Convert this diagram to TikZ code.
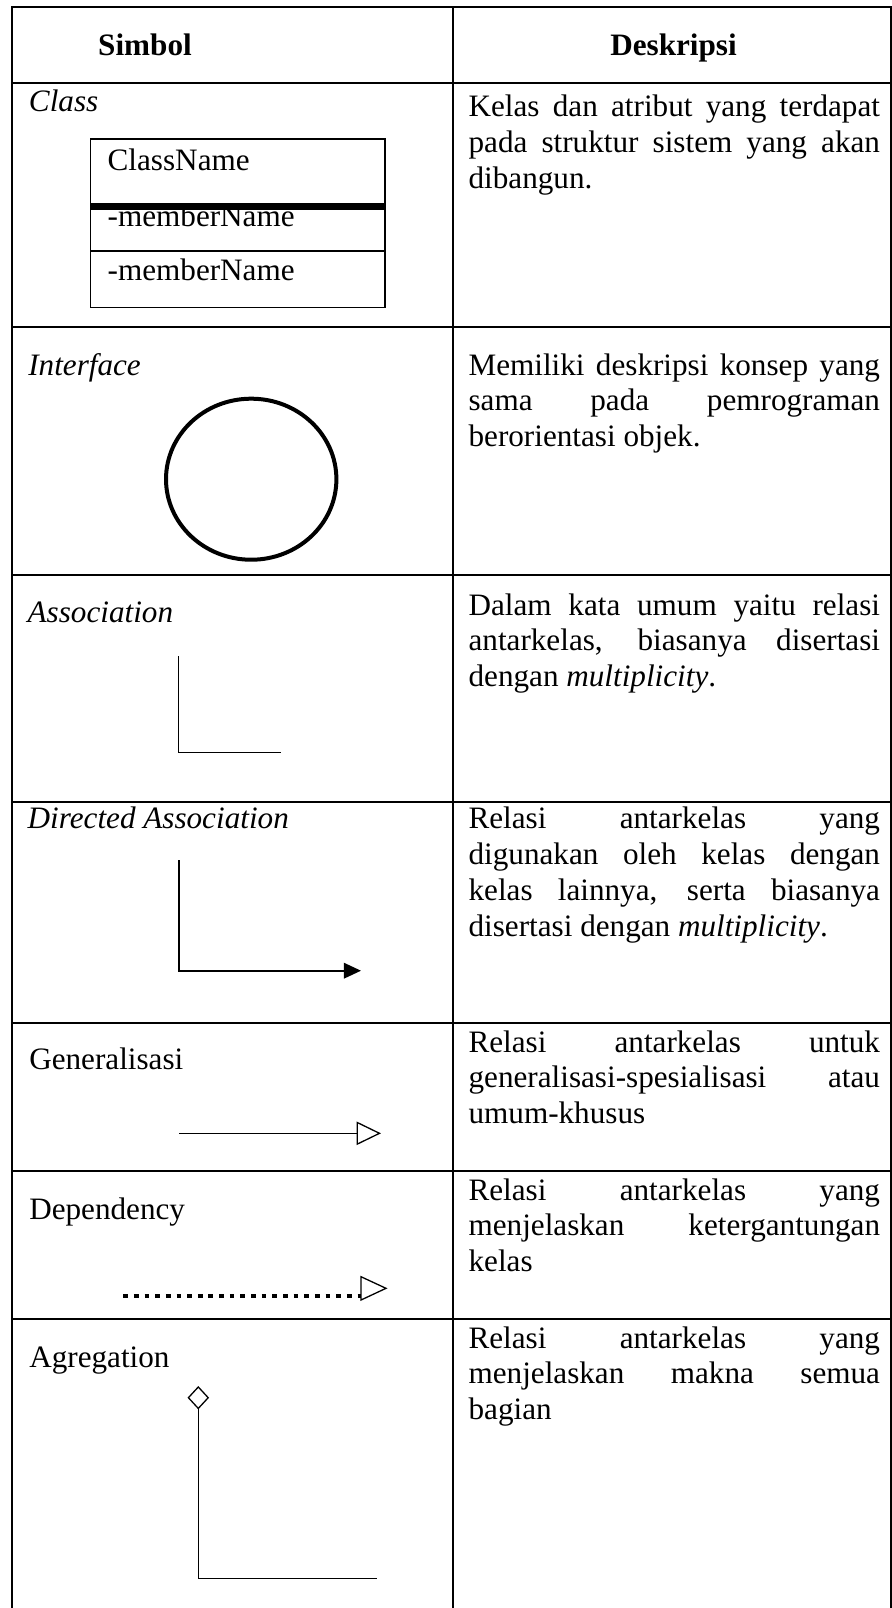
\documentclass[tikz,border=0pt]{standalone}
\usepackage{fontspec}
\setmainfont{Liberation Serif}
\usetikzlibrary{arrows.meta}
\newcommand{\cellfont}{\fontsize{12}{13.8}\selectfont}
\tolerance=10000
\hbadness=10000
\hyphenpenalty=10000
\exhyphenpenalty=10000

\begin{document}
\begin{tikzpicture}[x=0.385pt, y=-0.385pt, line width=0.77pt, font=\cellfont,
      every node/.append style={inner sep=0pt}]
    \tikzstyle{head} = [anchor=base, font=\cellfont\bfseries]
    \tikzstyle{word} = [anchor=base west]
    \tikzstyle{slant} = [anchor=base west, font=\cellfont\itshape]
    \tikzstyle{desc} = [anchor=base west, text width=158.4pt, align=justify]
    \tikzstyle{thin} = [line width=0.5pt]
    \useasboundingbox (0,0) rectangle (892,1608);
    \draw (11.7,1608) -- (11.7,7.3) -- (890.5,7.3) -- (890.5,1608);
    \draw (452.7,7.3) -- (452.7,1608);
    \foreach \y in {82.5,327.2,575,801.5,1022.5,1170.5,1318.5}
      \draw (11.7,\y) -- (890.5,\y);
    \node [head] (simbol) at (145,55) {Simbol};
    \node [head] (deskripsi) at (673.5,55) {Deskripsi};
    \node [slant] (class) at (28,111.7) {Class};
    \node [desc] (kelas) at (467.6,116.7) {Kelas dan atribut yang terdapat\linebreak pada struktur sistem yang akan\linebreak dibangun.};
    \coordinate (box-nw) at (90.7,139);
    \coordinate (box-se) at (385,307.7);
    \draw [line width=0.6pt] (box-nw) rectangle (box-se);
    \draw [line width=0.6pt] (90.7,251) -- (385,251);
    \node [word] (classname) at (106.7,170) {ClassName};
    \node [word] (member1) at (106.7,226.7) {-memberName};
    \node [word] (member2) at (106.7,280) {-memberName};
    \draw [line width=2.8pt] (90.7,206.3) -- (385,206.3);
    \node [slant] (interface) at (27.3,375) {Interface};
    \node [desc] (konsep) at (467.6,375) {Memiliki deskripsi konsep yang\linebreak sama pada pemrograman\linebreak berorientasi objek.};
    \draw [line width=1.54pt] (251.2,479.2) ellipse [x radius=32.8pt, y radius=31pt];
    \node [slant] (association) at (26.7,622.7) {Association};
    \node [desc] (umum) at (467.6,615) {Dalam kata umum yaitu relasi\linebreak antarkelas, biasanya disertasi\linebreak dengan \textit{multiplicity}.};
    \coordinate (asc-a) at (178.3,656);
    \coordinate (asc-b) at (281,752.3);
    \draw [thin] (asc-a) |- (asc-b);
    \node [slant] (directed) at (26.7,828.5) {Directed Association};
    \node [desc] (digunakan) at (467.6,828.5) {Relasi antarkelas yang\linebreak digunakan oleh kelas dengan\linebreak kelas lainnya, serta biasanya\linebreak disertasi dengan \textit{multiplicity}.};
    \coordinate (dir-a) at (179.3,860);
    \coordinate (dir-b) at (361,970.7);
    \draw [line width=0.65pt, -{Triangle[length=6.6pt,width=6pt]}] (dir-a) |- (dir-b);
    \node [word] (generalisasi) at (28.3,1069) {Generalisasi};
    \node [desc] (khusus) at (467.6,1052) {Relasi antarkelas untuk\linebreak generalisasi-spesialisasi atau\linebreak umum-khusus};
    \coordinate (gen-a) at (179.3,1133.3);
    \coordinate (gen-b) at (381,1133.3);
    \draw [thin, -{Triangle[open,length=9.4pt,width=9pt]}] (gen-a) -- (gen-b);
    \node [word] (dependency) at (28.3,1219) {Dependency};
    \node [desc] (ketergantungan) at (467.6,1200) {Relasi antarkelas yang\linebreak menjelaskan ketergantungan\linebreak kelas};
    \coordinate (dep-a) at (123.3,1296);
    \coordinate (dep-b) at (361,1296);
    \coordinate (dep-tip) at (386,1288.3);
    \draw [line width=1.3pt, dash pattern=on 1.8pt off 2.3pt] (dep-a) -- (dep-b);
    \draw [thin] (361,1276.7) -- (dep-tip) -- (361,1300) -- cycle;
    \node [word] (agregation) at (28.3,1367) {Agregation};
    \node [desc] (makna) at (467.6,1348) {Relasi antarkelas yang\linebreak menjelaskan makna semua\linebreak bagian};
    \coordinate (agr-a) at (198.3,1386);
    \coordinate (agr-b) at (376.7,1578.3);
    \draw [thin, {Diamond[open,length=9pt,width=8.3pt]}-] (agr-a) |- (agr-b);
\end{tikzpicture}
\end{document}
